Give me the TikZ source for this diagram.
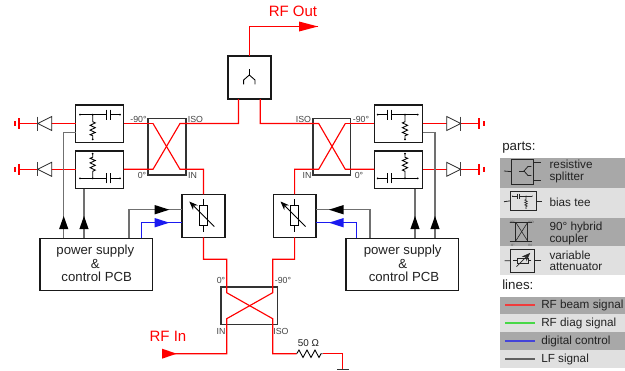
\documentclass[tikz,border=0pt]{standalone}
\usepackage{fontspec}
\setmainfont{Liberation Sans}
\usetikzlibrary{arrows.meta}
\definecolor{rfred}{HTML}{FF0000}
\definecolor{lfgray}{HTML}{707070}
\definecolor{digblue}{HTML}{1A1AF0}
\definecolor{bandD}{HTML}{A8A8A8}
\definecolor{bandL}{HTML}{E0E0E0}
\definecolor{inktext}{HTML}{222222}
\definecolor{porttext}{HTML}{444444}
\definecolor{legred}{HTML}{F03C3C}
\definecolor{leggreen}{HTML}{48D848}
\definecolor{legblue}{HTML}{4444D8}
\definecolor{leggray}{HTML}{606060}
\newcommand{\pxbox}[6][partbox]{\node[#1,minimum width={(#5-#3)*0.75pt},minimum height={(#6-#4)*0.75pt}] (#2) at ({(#3+#5)/2},{(#4+#6)/2}) {};}
\newcommand{\fs}[1]{\fontsize{#1pt}{#1pt}\selectfont}
\tikzset{
  x=0.75pt,y=-0.75pt,
  partbox/.style={draw=black!90,line width=0.95pt,inner sep=0pt,outer sep=0pt},
  hybox/.style={draw=black!80,line width=1.1pt,inner sep=0pt,outer sep=0pt},
  iconbox/.style={draw=black!85,line width=0.6pt,inner sep=0pt,outer sep=0pt},
  rf/.style={color=rfred,line width=0.85pt,line join=miter},
  lf/.style={color=lfgray,line width=0.9pt},
  dig/.style={color=digblue,line width=0.9pt},
  sym/.style={color=black,line width=0.65pt},
  isym/.style={color=black!85,line width=0.45pt},
  legline/.style={line width=0.8pt},
  port/.style={font=\fs{6.6},text=porttext,inner sep=0pt,anchor=mid},
  rflabel/.style={font=\fs{11.25},text=rfred,inner sep=0pt,anchor=mid},
  boxtext/.style={font=\fs{9.9},text=inktext,inner sep=0pt,anchor=mid},
  legtext/.style={font=\fs{8.8},text=inktext,inner sep=0pt,anchor=mid west},
  legtitle/.style={font=\fs{10},text=inktext,inner sep=0pt,anchor=mid west},
  tinyport/.style={font=\fs{2.4},text=black!70,inner sep=0pt,anchor=mid},
  teesym/.pic={
    \draw (-12.7,0) -- (14,0) (17.3,0) -- (27.3,0);
    \draw (14,-5) -- (14,5) (17.3,-5) -- (17.3,5);
    \fill (-12.7,0) circle (1) (27.3,0) circle (1) (0,0) circle (1) (0,24.6) circle (1);
    \draw (0,0) -- (0,7) -- (2.6,8.2) -- (-2.6,10.6) -- (2.6,13) -- (-2.6,15.4) -- (2.6,17.8) -- (-2.6,20) -- (0,21) -- (0,24.6);
  },
  attsym/.pic={
    \draw (-4,-10.2) rectangle (4,10.2);
    \draw (0,-16.2) -- (0,-10.2) (0,10.2) -- (0,16.8);
    \draw[-{Stealth[length=6.5,width=5]}] (10.8,11) -- (-14.2,-14);
  },
  splitsym/.pic={
    \draw (0,-5.7) -- (0,0);
    \draw (-5.7,9.3) -- (-5.7,5) -- (0,0) -- (5.7,5) -- (5.7,9.3);
  },
}
\begin{document}
\begin{tikzpicture}
\useasboundingbox (0,0) rectangle (625,371);
\fill[white] (0,0) rectangle (625,371);

% legend bands
\foreach \ya/\yb/\bandcol in {158/188/bandD,188/217.5/bandL,217.5/246/bandD,246/274.5/bandL,296.5/314/bandD,314/332/bandL,332/350/bandD,350/368/bandL}
  \fill[\bandcol] (500,\ya) rectangle (625,\yb);

% main parts
\pxbox{split}{228}{56}{271}{99}
\pxbox[hybox]{hybL}{148}{118.7}{186}{175}
\pxbox[hybox]{hybR}{313}{118.7}{350.7}{175}
\pxbox[hybox]{hybB}{221}{287}{277.3}{324.7}
\pxbox{teeUL}{75.7}{105}{123.7}{142.7}
\pxbox{teeLL}{75.7}{151}{123.7}{188.7}
\pxbox{teeUR}{374.3}{105}{422.7}{142.7}
\pxbox{teeLR}{374.3}{151}{422.7}{188.7}
\pxbox{attL}{182}{194.3}{225}{237.3}
\pxbox{attR}{273.3}{194.3}{316}{237.3}
\pxbox{pcbL}{40}{238.3}{152.7}{290.3}
\pxbox{pcbR}{346}{238.3}{458.7}{290.3}

% named free ends and ports
\coordinate (outEnd) at (318,26.5);
\coordinate (inEnd) at (162,353.7);
\coordinate (termGnd) at (342.7,369.3);
\coordinate (resA) at (296.7,353.7);
\coordinate (resB) at (322.7,353.7);
\coordinate (a1) at (153,123.5); \coordinate (a2) at (180,123.5);
\coordinate (a3) at (153,169.3); \coordinate (a4) at (180,169.3);
\coordinate (b1) at (318.7,123.5); \coordinate (b2) at (345.3,123.5);
\coordinate (b3) at (318.7,169.3); \coordinate (b4) at (345.3,169.3);
\coordinate (c1) at (226.7,292.7); \coordinate (c2) at (272.7,292.7);
\coordinate (c3) at (226.7,318.7); \coordinate (c4) at (272.7,318.7);

% RF connectors
\draw[rf] (split.north) |- (outEnd);
\draw[rf] (238.5,99) |- (a2) -- (a3) -- (teeLL.east |- a3);
\draw[rf] (a1) -- (a4) -| (attL.north);
\draw[rfred,rf] (a1) -- (teeUL.east |- a1);
\draw[rf] (260.3,99) |- (b1) -- (b4) -- (teeLR.west |- b4);
\draw[rf] (b2) -- (b3) -| (attR.north);
\draw[rfred,rf] (b2) -- (teeUR.west |- b2);
\draw[rf] (attL.south) |- (226.7,259.3) -- (c1) -- (c4) |- (resA);
\draw[rf] (attR.south) |- (272.7,259.3) -- (c2) -- (c3) |- (inEnd);
\draw[rf] (resB) -| (termGnd);
\draw[black!80,line width=0.75pt] (337,369.3) -- (349,369.3);
\draw[sym] (resA) -- (299,350) -- (303,357.5) -- (307,350) -- (311,357.5) -- (315,350) -- (319,357.5) -- (321,353.7) -- (resB);

% detector lines, grounds and diodes
\coordinate (gUL) at (19,123.5); \coordinate (gLL) at (19,169.3);
\coordinate (gUR) at (479,123.5); \coordinate (gLR) at (479,169.3);
\draw[rfred,line width=0.85pt] (gUL) -- (teeUL.west |- gUL);
\draw[rfred,line width=0.85pt] (gLL) -- (teeLL.west |- gLL);
\draw[rfred,line width=0.85pt] (teeUR.east |- gUR) -- (gUR);
\draw[rfred,line width=0.85pt] (teeLR.east |- gLR) -- (gLR);
\foreach \gy in {123.5,169.3}{
  \draw[rfred,line width=0.85pt] (19,\gy-5.5) -- (19,\gy+5.5);
  \draw[rfred,line width=0.85pt] (15,\gy-2.4) -- (15,\gy+2.4);
  \draw[rfred,line width=0.85pt] (479,\gy-5.5) -- (479,\gy+5.5);
  \draw[rfred,line width=0.85pt] (484,\gy-2.4) -- (484,\gy+2.4);
  \filldraw[fill=white,draw=black!85,line width=0.6pt] (37.7,\gy) -- (51.7,\gy-7) -- (51.7,\gy+7) -- cycle;
  \draw[black!75,line width=0.7pt] (37.7,\gy-7) -- (37.7,\gy+7);
  \filldraw[fill=white,draw=black!85,line width=0.6pt] (460.7,\gy) -- (446.7,\gy-7) -- (446.7,\gy+7) -- cycle;
  \draw[black!75,line width=0.7pt] (460.7,\gy-7) -- (460.7,\gy+7);
}

% LF and digital connectors
\draw[lf] (teeUL.west |- 0,132.7) -| (63.7,238.3);
\draw[lf] (84,188.7) -- (84,238.3);
\draw[lf] (teeUR.east |- 0,132.7) -| (435,238.3);
\draw[lf] (415,188.7) -- (415,238.3);
\draw[lf] (129,238.3) |- (attL.west |- 0,209.7);
\draw[lf] (370,238.3) |- (attR.east |- 0,209.7);
\draw[dig] (141.7,238.3) |- (attL.west |- 0,222.7);
\draw[dig] (356.7,238.3) |- (attR.east |- 0,222.7);

% arrow heads
\foreach \xx in {63.7,84,415,435}
  \fill[black] (\xx,216) -- (\xx+4.6,229) -- (\xx-4.6,229) -- cycle;
\fill[black] (169.3,209.7) -- (154.7,205) -- (154.7,214.4) -- cycle;
\fill[digblue] (169.3,222.7) -- (154.7,218) -- (154.7,227.4) -- cycle;
\fill[black] (329,209.7) -- (343.6,205) -- (343.6,214.4) -- cycle;
\fill[digblue] (329,222.7) -- (343.6,218) -- (343.6,227.4) -- cycle;
\fill[rfred] (318,26.5) -- (299,21.5) -- (299,31.5) -- cycle;
\fill[rfred] (176.7,353.7) -- (162,348.7) -- (162,358.7) -- cycle;

% part symbols
\pic[sym] at (249.3,75) {splitsym};
\pic[sym] at (92.7,114.7) {teesym};
\pic[sym,yscale=-1] at (92.7,178.3) {teesym};
\pic[sym,xscale=-1] at (405,114.7) {teesym};
\pic[sym,xscale=-1,yscale=-1] at (405,178.3) {teesym};
\pic[sym] at (203.5,215.5) {attsym};
\pic[sym] at (294.7,215.5) {attsym};

% port labels
\node[port] (p1) at (138.5,118.5) {-90°};
\node[port] (p2) at (195.5,118.5) {ISO};
\node[port] (p3) at (142,175) {0°};
\node[port] (p4) at (192.5,175) {IN};
\node[port] (p5) at (303.5,118.5) {ISO};
\node[port] (p6) at (361,118.5) {-90°};
\node[port] (p7) at (307,175) {IN};
\node[port] (p8) at (359,175) {0°};
\node[port] (p9) at (221,280) {0°};
\node[port] (p10) at (283,280) {-90°};
\node[port] (p11) at (221,331) {IN};
\node[port] (p12) at (281,331) {ISO};
\node[port,font=\fs{7.4},text=inktext] (p13) at (308.5,342.5) {50 Ω};
\node[rflabel] (rfout) at (293,13) {RF Out};
\node[rflabel] (rfin) at (168,338) {RF In};

% PCB text
\node[boxtext] (t1) at (95.3,251) {power supply};
\node[boxtext] (t2) at (95.3,265) {\&};
\node[boxtext] (t3) at (96.7,278) {control PCB};
\node[boxtext] (t4) at (402.7,251) {power supply};
\node[boxtext] (t5) at (402.7,265) {\&};
\node[boxtext] (t6) at (404,278) {control PCB};

% legend: parts
\node[legtitle] (partsT) at (502,147.3) {parts:};
\pxbox[iconbox]{iconS}{511.3}{159}{533.7}{184.3}
\draw[isym,line width=0.6pt] (504,171) -- (iconS.west);
\draw[isym,line width=0.6pt] (iconS.east |- 0,162.3) -- (540.7,162.3);
\draw[isym,line width=0.6pt] (iconS.east |- 0,180.7) -- (540.7,180.7);
\pic[isym,line width=0.6pt,rotate=90,scale=0.8] at (524,171) {splitsym};
\pxbox[iconbox]{iconT}{510.3}{191.7}{536.3}{210}
\draw[isym,line width=0.6pt] (504,201.7) -- (iconT.west);
\draw[isym,line width=0.6pt] (iconT.east |- 0,201.7) -- (542.3,201.7);
\pic[isym,xscale=-0.5,yscale=0.5] at (526,196) {teesym};
\pxbox[iconbox]{iconH}{515.7}{222.3}{527.7}{241}
\draw[isym,line width=0.6pt] (509.7,222.3) -- (532,222.3);
\draw[isym,line width=0.6pt] (509.7,241) -- (532,241);
\draw[isym] (iconH.north west) -- (iconH.south east);
\draw[isym] (iconH.north east) -- (iconH.south west);
\node[tinyport] (q1) at (512,220) {-90°};
\node[tinyport] (q2) at (531,220) {ISO};
\node[tinyport] (q3) at (513,243) {0°};
\node[tinyport] (q4) at (530,243) {IN};
\pxbox[iconbox]{iconA}{510.3}{249.3}{534.7}{272.3}
\draw[isym,line width=0.6pt] (504.7,260.7) -- (iconA.west);
\draw[isym,line width=0.6pt] (iconA.east |- 0,260.7) -- (540.7,260.7);
\pic[isym,rotate=-90,scale=0.55] at (522.5,260.7) {attsym};
\node[legtext] (l1) at (549.3,165) {resistive};
\node[legtext] (l2) at (549.3,177.3) {splitter};
\node[legtext] (l3) at (549.3,203.3) {bias tee};
\node[legtext] (l4) at (549.3,226.7) {90° hybrid};
\node[legtext] (l5) at (549.3,239) {coupler};
\node[legtext] (l6) at (549.3,255.7) {variable};
\node[legtext] (l7) at (549.3,267.3) {attenuator};

% legend: lines
\node[legtitle] (linesT) at (502,286) {lines:};
\coordinate (k1a) at (505,305); \coordinate (k1b) at (535,305);
\coordinate (k2a) at (505,323); \coordinate (k2b) at (535,323);
\coordinate (k3a) at (505,341); \coordinate (k3b) at (535,341);
\coordinate (k4a) at (505,359); \coordinate (k4b) at (535,359);
\draw[legline,legred] (k1a) -- (k1b);
\draw[legline,leggreen] (k2a) -- (k2b);
\draw[legline,legblue] (k3a) -- (k3b);
\draw[legline,leggray] (k4a) -- (k4b);
\node[legtext] (m1) at (541,305) {RF beam signal};
\node[legtext] (m2) at (541,323) {RF diag signal};
\node[legtext] (m3) at (541,341) {digital control};
\node[legtext] (m4) at (541,359) {LF signal};
\end{tikzpicture}
\end{document}
